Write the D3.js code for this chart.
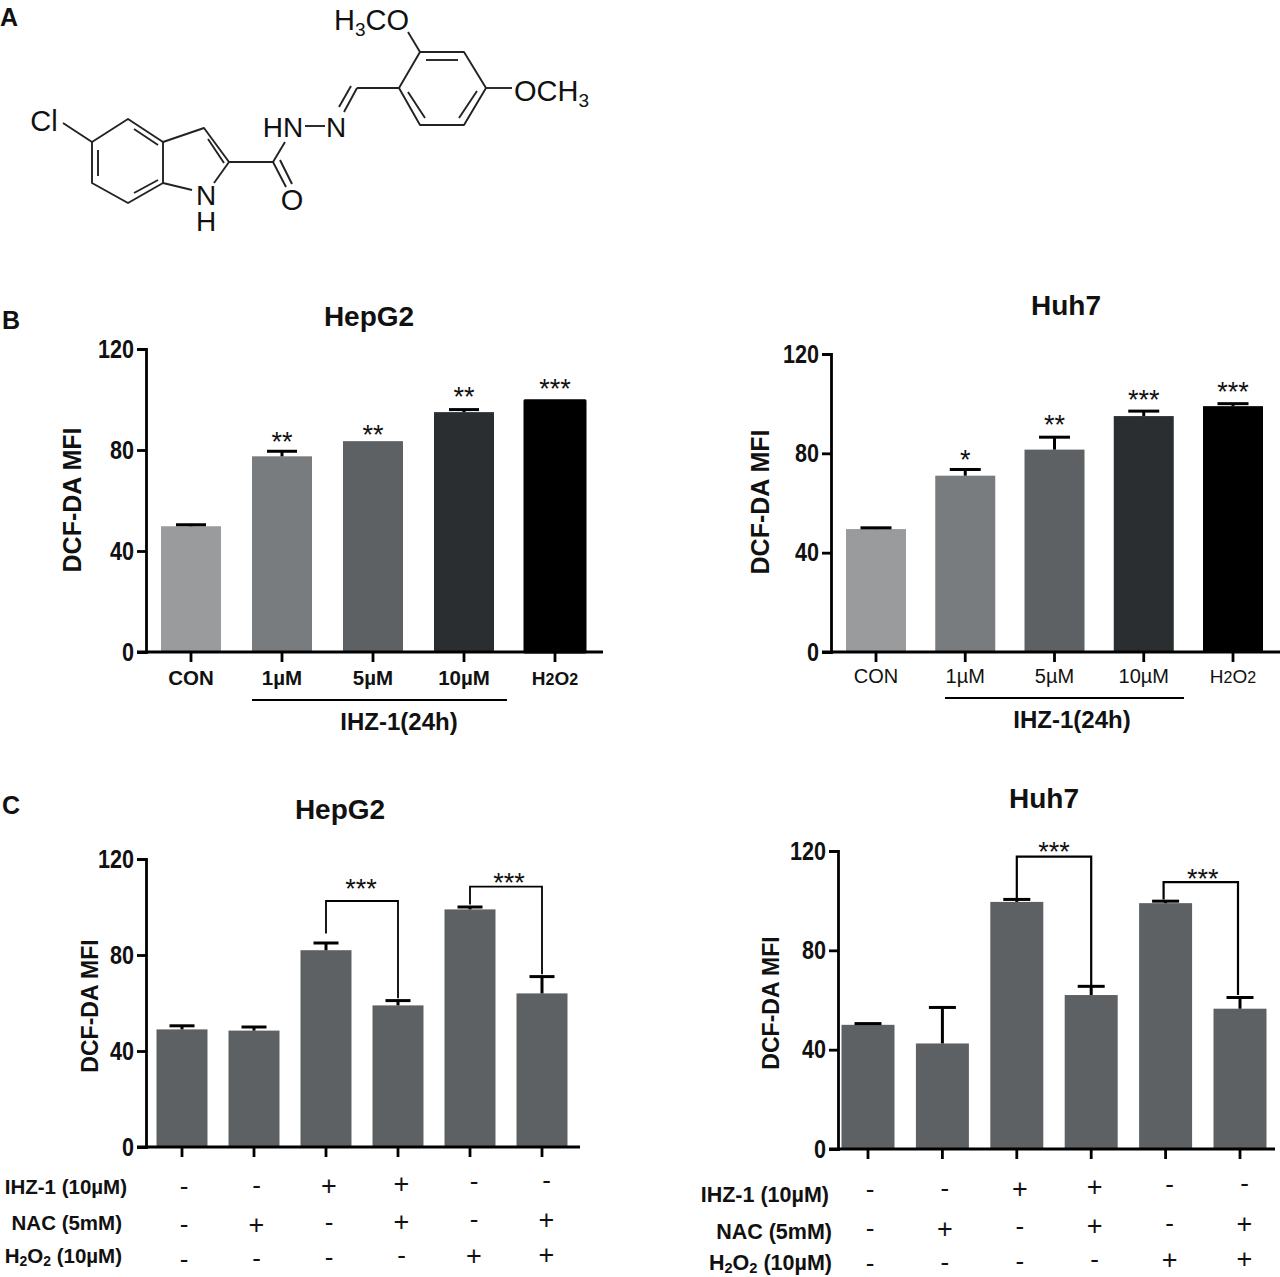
<!DOCTYPE html>
<html>
<head>
<meta charset="utf-8">
<script src="https://d3js.org/d3.v7.min.js"></script>
<style>
body{margin:0;background:#fff}
svg{display:block}
text{font-family:"Liberation Sans",Arial,sans-serif;fill:#111}
</style>
</head>
<body>
<svg width="1280" height="1277"></svg>
<script>
// panel B data
var doseLabels=["CON","1µM","5µM","10µM","H2O2"];
var hepDose=[49.8,77.5,83.5,95,99.5];
var hepDoseTop=[50.4,79.5,83.5,96,99.5];
var hepDoseStars=["","**","**","**","***"];
var hepDoseStarY=[0,84.5,87,102,105.5];
var huhDose=[49.5,71,81.5,95,99];
var huhDoseTop=[50,73.5,86.5,97,100];
var huhDoseStars=["","*","**","***","***"];
var huhDoseStarY=[0,78.5,92.5,102.5,106];
var doseColors=["#999b9d","#797c7f","#5e6163","#2b2e30","#000000"];

// panel C data
var treatLabels=["a","b","c","d","e","f"];
var hepTreat=[49,48.5,82,59,99,64];
var hepTreatTop=[50.5,50,85,61,100,71];
var huhTreat=[50,42.5,99.5,62,99,56.5];
var huhTreatTop=[50.5,57,100.5,65.5,99.8,61];
var yTicks=[0,40,80,120];

// + and - rows under panel C
var rowIHZ=["-","-","+","+","-","-"];
var rowNAC=["-","+","-","+","-","+"];
var rowH2O2=["-","-","-","-","+","+"];

// compound in panel A, pixel layout of the drawing
var benzene=[[92,142],[128,119],[163,142],[163,183],[128,203],[92,183]];
var pyrrole=[[163,142],[204,128],[229,162]];
var phenyl=[[399,88],[420,52],[464,52],[486,88],[464,125],[420,125]];
var singleBonds=[
  [63,123,92,142],[163,183,192,190],[229,162,214,183],[229,162,273,162],
  [273,162,285,142],[305,126,325,126],[344,112,357,88],[357,88,399,88],
  [420,52,408,32],[486,88,512,88],[273,162,286,187]
];
var innerBonds=[
  [98,150,98,176],[134,129,158,145],[134,193,158,180],[208,139,224,163],
  [339,107,351,86],[280,160,292,184],
  [426,60,458,60],[477,91,459,118],[408,92,425,118]
];

var svg=d3.select("svg");

function label(x,y,txt,size,weight,anchor)
{
    return svg.append("text").attr("x",x).attr("y",y)
        .attr("font-size",size).attr("font-weight",weight||"normal")
        .attr("text-anchor",anchor||"middle").text(txt);
}

// text with a lowered 2 for the H2O2 labels
function h2o2(sel,tail,size)
{
    sel.text(null);
    sel.append("tspan").text("H");
    sel.append("tspan").attr("font-size",size*0.68).attr("dy",size*0.15).text("2");
    sel.append("tspan").attr("dy",-size*0.15).text("O");
    sel.append("tspan").attr("font-size",size*0.68).attr("dy",size*0.15).text("2");
    sel.append("tspan").attr("dy",-size*0.15).text(tail);
}

function drawCompound()
{
    var g=svg.append("g").attr("stroke","#222").attr("stroke-width",1.9).attr("fill","none").attr("stroke-linejoin","round");
    var line=d3.line();
    g.append("path").attr("d",line(benzene)+"Z");
    g.append("path").attr("d",line(pyrrole));
    g.append("path").attr("d",line(phenyl)+"Z");
    g.selectAll("line.bond").data(singleBonds.concat(innerBonds)).enter().append("line")
        .attr("class","bond")
        .attr("x1",function(d){return d[0]}).attr("y1",function(d){return d[1]})
        .attr("x2",function(d){return d[2]}).attr("y2",function(d){return d[3]});

    label(44,131,"Cl",29);
    var nh=label(206,205,"N",28);
    nh.append("tspan").attr("x",206).attr("dy",26).text("H");
    label(292,210,"O",29);
    label(283,137,"HN",28);
    label(336,137,"N",28);

    var top=label(334,30,"",29,"normal","start");
    top.append("tspan").text("H");
    top.append("tspan").attr("font-size",19).attr("dy",6).text("3");
    top.append("tspan").attr("dy",-6).text("CO");
    var right=label(514,101,"",29,"normal","start");
    right.append("tspan").text("OCH");
    right.append("tspan").attr("font-size",19).attr("dy",6).text("3");
}

// one bar panel; p holds the layout, arrays come from the top of the file
function drawBars(p,cats,values,tops,colors)
{
    var y=d3.scaleLinear().domain([0,120]).range([p.y0,p.y120]);
    var step=(p.xLast-p.xFirst)/(cats.length-1);
    var x=d3.scaleBand().domain(cats)
        .range([p.xFirst-step/2,p.xLast+step/2])
        .paddingInner(1-p.barW/step).paddingOuter((1-p.barW/step)/2);

    var rows=cats.map(function(c,i){return {cat:c,value:values[i],top:tops[i],color:colors[i]}});
    var mid=function(c){return x(c)+x.bandwidth()/2};

    var g=svg.append("g");
    g.selectAll("rect").data(rows).enter().append("rect")
        .attr("x",function(d){return x(d.cat)})
        .attr("width",x.bandwidth())
        .attr("y",function(d){return y(d.value)})
        .attr("height",function(d){return p.y0-y(d.value)})
        .attr("fill",function(d){return d.color})
        .attr("stroke",function(d){return d.color=="#000000"?d.color:"none"})
        .attr("stroke-width",p.blackStroke||0)
        .attr("stroke-linejoin","round");

    // error bars, skipped where the bar has none
    var errs=g.selectAll("g.err").data(rows.filter(function(d){return d.top>d.value})).enter().append("g").attr("class","err");
    errs.append("line")
        .attr("x1",function(d){return mid(d.cat)}).attr("x2",function(d){return mid(d.cat)})
        .attr("y1",function(d){return y(d.value)}).attr("y2",function(d){return y(d.top)})
        .attr("stroke","#000").attr("stroke-width",3);
    errs.append("line")
        .attr("x1",function(d){return mid(d.cat)-p.capW/2}).attr("x2",function(d){return mid(d.cat)+p.capW/2})
        .attr("y1",function(d){return y(d.top)}).attr("y2",function(d){return y(d.top)})
        .attr("stroke","#000").attr("stroke-width",3);

    var yAxis=d3.axisLeft(y).tickValues(yTicks).tickSize(9).tickPadding(3);
    var gy=svg.append("g").attr("transform","translate("+p.xAxis+",0)").call(yAxis);
    gy.selectAll("path,line").attr("stroke","#000").attr("stroke-width",2.8);
    gy.selectAll("text").attr("font-family","Liberation Sans").attr("font-size",25).attr("font-weight","bold").attr("fill","#111")
        .attr("textLength",function(d){return String(d).length*12}).attr("lengthAdjust","spacingAndGlyphs");

    var xAxis=d3.axisBottom(x).tickSize(10).tickSizeOuter(0).tickFormat("");
    var gx=svg.append("g").attr("transform","translate(0,"+p.y0+")").call(xAxis);
    gx.select(".domain").attr("d","M"+(p.xAxis-9)+",0H"+p.xEnd);
    gx.selectAll("path,line").attr("stroke","#000").attr("stroke-width",2.8);

    return {x:x,y:y,mid:mid};
}

function drawDosePanel(p,values,tops,stars,starY)
{
    var s=drawBars(p,doseLabels,values,tops,doseColors);
    label(p.titleX,p.titleY,p.title,28,"bold");
    label(0,0,"DCF-DA MFI",25,"bold").attr("transform","translate("+p.labelX+","+p.labelY+") rotate(-90)");

    doseLabels.forEach(function(d,i){
        var t=label(s.mid(d),p.tickY,d,p.tickSize,p.tickWeight);
        if(d=="H2O2")
        {
            t.attr("font-size",19).text(null);
            t.append("tspan").text("H");
            t.append("tspan").attr("font-size",16).text("2");
            t.append("tspan").text("O");
            t.append("tspan").attr("font-size",16).text("2");
        }
    });

    stars.forEach(function(d,i){
        if(d) label(s.mid(doseLabels[i]),s.y(starY[i])+12,d,27);
    });

    svg.append("line").attr("x1",p.ruleA).attr("x2",p.ruleB).attr("y1",p.ruleY).attr("y2",p.ruleY)
        .attr("stroke","#000").attr("stroke-width",2);
    label(p.ruleLabelX,p.ruleY+30,"IHZ-1(24h)",24,"bold");
}

function drawTreatPanel(p,values,tops)
{
    var colors=treatLabels.map(function(){return "#5e6163"});
    var s=drawBars(p,treatLabels,values,tops,colors);
    label(p.titleX,p.titleY,p.title,28,"bold");
    label(0,0,"DCF-DA MFI",23,"bold").attr("transform","translate("+p.labelX+","+p.labelY+") rotate(-90)");

    // significance brackets
    p.brackets.forEach(function(b){
        var xa=s.mid(treatLabels[b.from])+b.dx,xb=s.mid(treatLabels[b.to])+b.dx;
        svg.append("path")
            .attr("d","M"+xa+","+s.y(b.leftV)+"V"+s.y(b.topV)+"H"+xb+"V"+s.y(b.rightV))
            .attr("fill","none").attr("stroke","#000").attr("stroke-width",b.sw);
        label((xa+xb)/2+b.starDx,s.y(b.topV)-b.lift,"***",27);
    });

    // the three treatment rows
    [rowIHZ,rowNAC,rowH2O2].forEach(function(row,r){
        row.forEach(function(sign,i){
            var plus=sign=="+";
            label(s.mid(treatLabels[i])+p.signDx+i*p.signDrift,p.rowY[r]-i*p.rowTilt+(plus?8:6),sign,plus?27:26,"normal");
        });
    });
    label(p.nameX[0],p.nameY[0],"IHZ-1 (10µM)",p.nameSize,"bold","end");
    label(p.nameX[1],p.nameY[1],"NAC (5mM)",p.nameSize,"bold","end");
    h2o2(label(p.nameX[2],p.nameY[2],"",p.nameSize,"bold","end")," (10µM)",p.nameSize);
}

drawCompound();

label(0,26,"A",25,"bold","start");
label(2,329,"B",25,"bold","start");
label(2,814,"C",25,"bold","start");

drawDosePanel({title:"HepG2",titleX:369,titleY:326,labelX:81,labelY:500,
    y0:652,y120:349,xAxis:146,xEnd:603,xFirst:191,xLast:555,barW:60,capW:30,blackStroke:3,
    tickY:685,tickSize:20.5,tickWeight:"bold",ruleA:252,ruleB:507,ruleY:700,ruleLabelX:399},
    hepDose,hepDoseTop,hepDoseStars,hepDoseStarY);

drawDosePanel({title:"Huh7",titleX:1066,titleY:315,labelX:769,labelY:502,
    y0:652,y120:354,xAxis:831,xEnd:1280,xFirst:876,xLast:1233,barW:60,capW:31,
    tickY:683,tickSize:20,tickWeight:"normal",ruleA:945,ruleB:1184,ruleY:698,ruleLabelX:1072},
    huhDose,huhDoseTop,huhDoseStars,huhDoseStarY);

drawTreatPanel({title:"HepG2",titleX:340,titleY:819,labelX:98,labelY:1006,
    y0:1147,y120:859,xAxis:146,xEnd:580,xFirst:182,xLast:542,barW:51,capW:25,
    brackets:[{from:2,to:3,dx:0,topV:102.5,leftV:89,rightV:62,sw:1.8,lift:3,starDx:-1},
              {from:4,to:5,dx:0,topV:108.5,leftV:101,rightV:72,sw:1.8,lift:-5,starDx:3}],
    rowY:[1189,1227,1262],rowTilt:1.2,signDx:2,signDrift:0.5,
    nameSize:20.5,nameX:[127,122,122],nameY:[1194,1230,1263]},
    hepTreat,hepTreatTop);

drawTreatPanel({title:"Huh7",titleX:1044,titleY:808,labelX:779,labelY:1003,
    y0:1149,y120:851,xAxis:838,xEnd:1275,xFirst:868,xLast:1240,barW:53,capW:27,
    brackets:[{from:2,to:3,dx:0,topV:117.7,leftV:101,rightV:66,sw:2.2,lift:-4,starDx:0},
              {from:4,to:5,dx:-2,topV:107.5,leftV:100.5,rightV:62,sw:2.2,lift:-6,starDx:2}],
    rowY:[1192,1231,1266],rowTilt:1.2,signDx:2,signDrift:0.5,
    nameSize:21.5,nameX:[829,832,832],nameY:[1202,1239,1270]},
    huhTreat,huhTreatTop);
</script>
</body>
</html>
